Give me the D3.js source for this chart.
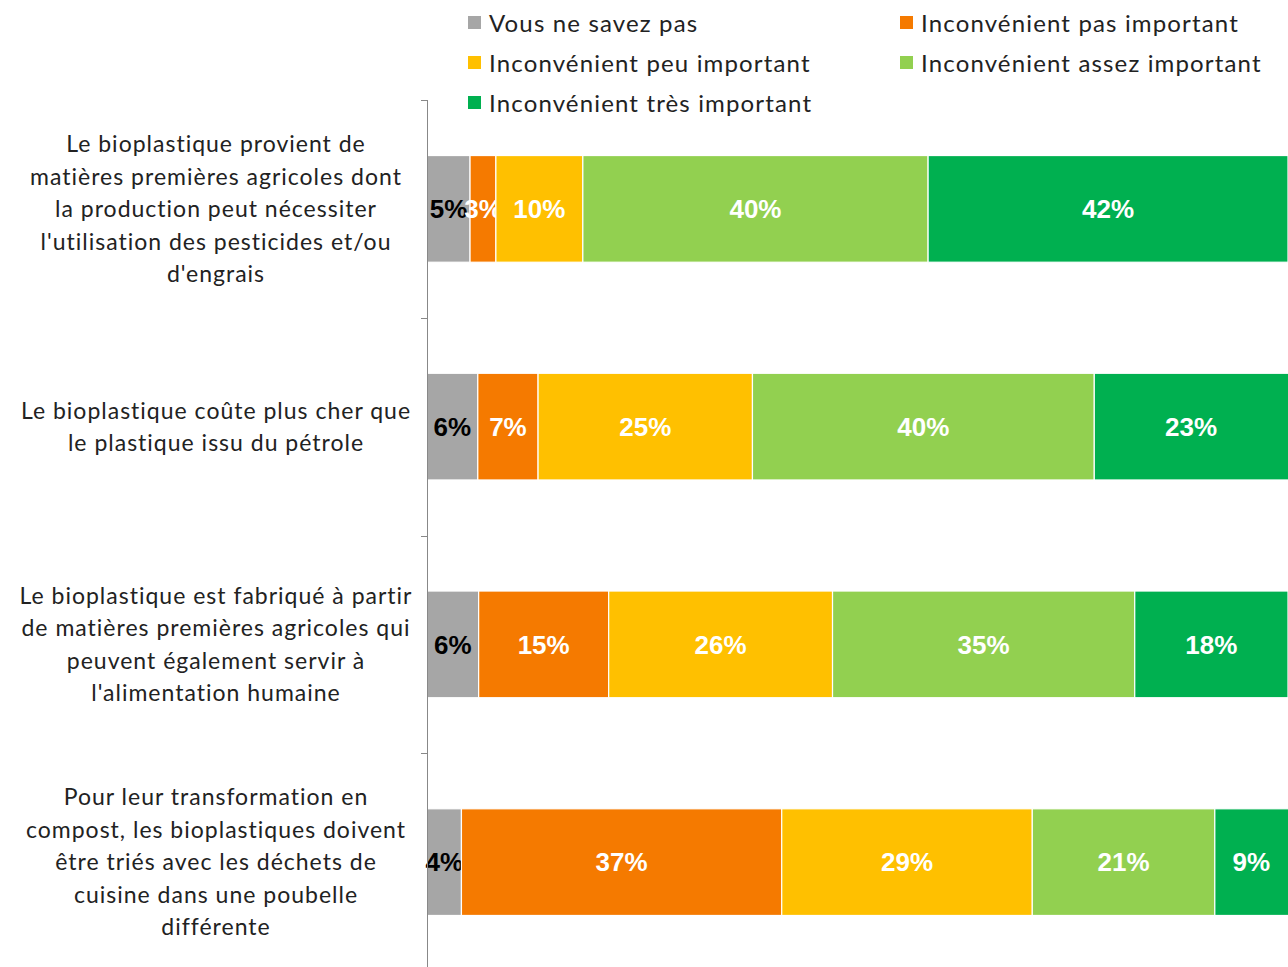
<!DOCTYPE html>
<html>
<head>
<meta charset="utf-8">
<script src="https://cdn.jsdelivr.net/npm/d3@7"></script>
<style>
  html, body { margin: 0; padding: 0; background: #fff; overflow: hidden; }
</style>
</head>
<body>
<div id="chart"></div>
<script>
// categories (top to bottom), each label split into lines
const categories = [
    ["Le bioplastique provient de", "matières premières agricoles dont", "la production peut nécessiter", "l'utilisation des pesticides et/ou", "d'engrais"],
    ["Le bioplastique coûte plus cher que", "le plastique issu du pétrole"],
    ["Le bioplastique est fabriqué à partir", "de matières premières agricoles qui", "peuvent également servir à", "l'alimentation humaine"],
    ["Pour leur transformation en", "compost, les bioplastiques doivent", "être triés avec les déchets de", "cuisine dans une poubelle", "différente"]
];

const seriesNames = [
    "Vous ne savez pas",
    "Inconvénient pas important",
    "Inconvénient peu important",
    "Inconvénient assez important",
    "Inconvénient très important"
];

// values per series, one per category
const nsp      = [5.0, 5.9, 6.0, 4.0];
const pasImp   = [3.0, 7.0, 15.1, 37.2];
const peuImp   = [10.1, 24.9, 26.0, 29.1];
const assezImp = [40.1, 39.7, 35.1, 21.2];
const tresImp  = [41.8, 22.6, 17.8, 8.6];

const seriesValues = [nsp, pasImp, peuImp, assezImp, tresImp];
const colors = ["#A6A6A6", "#F57A00", "#FFC000", "#92D050", "#00B050"];

const width = 1288, height = 967;

const svg = d3.select("#chart").append("svg")
    .attr("width", width)
    .attr("height", height);

const x = d3.scaleLinear().domain([0, 100]).range([427, 1288]);
const y = d3.scaleBand()
    .domain(d3.range(categories.length))
    .range([100, 971])
    .paddingInner(0.51)
    .paddingOuter(0.255);

// build stacked table
const rows = categories.map((c, i) => {
    const r = { idx: i };
    seriesNames.forEach((s, j) => r[s] = seriesValues[j][i]);
    return r;
});
const stack = d3.stack().keys(seriesNames)(rows);

const layers = svg.append("g").selectAll("g")
    .data(stack)
    .enter().append("g")
    .attr("fill", (d, i) => colors[i]);

layers.selectAll("rect")
    .data(d => d)
    .enter().append("rect")
    .attr("x", d => x(d[0]))
    .attr("y", d => y(d.data.idx))
    .attr("width", d => x(d[1]) - x(d[0]))
    .attr("height", y.bandwidth())
    .attr("stroke", "#fff")
    .attr("stroke-width", 1.2);

// value labels
layers.each(function(layer, i) {
    d3.select(this).selectAll("text")
        .data(layer)
        .enter().append("text")
        .attr("x", d => (x(d[0]) + Math.min(x(d[1]), width)) / 2)
        .attr("y", d => y(d.data.idx) + y.bandwidth() / 2)
        .attr("dy", "0.36em")
        .attr("text-anchor", "middle")
        .style("font-family", "'Liberation Sans', Arial, sans-serif")
        .style("font-weight", "bold")
        .style("font-size", "26px")
        .style("fill", i === 0 ? "#000" : "#fff")
        .text(d => Math.round(d[1] - d[0]) + "%");
});

// vertical axis
svg.append("line")
    .attr("x1", 427.5).attr("x2", 427.5)
    .attr("y1", 100).attr("y2", height)
    .attr("stroke", "#888").attr("stroke-width", 1);

const tickYs = d3.range(categories.length + 1).map(i => y.range()[0] + i * y.step());
svg.selectAll(".tick")
    .data(tickYs)
    .enter().append("line")
    .attr("x1", 421).attr("x2", 427.5)
    .attr("y1", d => Math.round(d) + 0.5).attr("y2", d => Math.round(d) + 0.5)
    .attr("stroke", "#888");

// category labels
const lineH = 32.5;
categories.forEach((lines, i) => {
    const cy = y(i) + y.bandwidth() / 2;
    const t = svg.append("text")
        .attr("text-anchor", "middle")
        .style("font-family", "Lato, sans-serif")
        .style("font-size", "23px")
        .style("letter-spacing", "1px")
        .style("fill", "#222");
    lines.forEach((ln, k) => {
        t.append("tspan")
            .attr("x", 216)
            .attr("y", cy + (k - (lines.length - 1) / 2) * lineH)
            .attr("dy", "0.36em")
            .text(ln);
    });
});

// legend (two columns, filled row by row)
const legend = svg.append("g");
seriesNames.forEach((s, i) => {
    const col = i % 2, row = Math.floor(i / 2);
    const lx = col === 0 ? 468 : 900;
    const ly = 23 + row * 40;
    legend.append("rect")
        .attr("x", lx).attr("y", ly - 7)
        .attr("width", 13).attr("height", 13)
        .attr("fill", colors[i]);
    legend.append("text")
        .attr("x", lx + 21).attr("y", ly)
        .attr("dy", "0.36em")
        .style("font-family", "Lato, sans-serif")
        .style("font-size", "24px")
        .style("letter-spacing", "1.15px")
        .style("fill", "#222")
        .text(s);
});
</script>
</body>
</html>
